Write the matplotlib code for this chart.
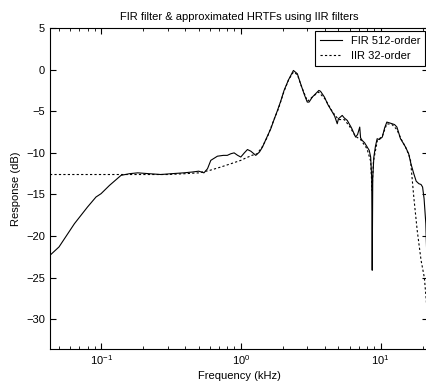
import matplotlib.pyplot as plt
from matplotlib.ticker import LogLocator, NullFormatter

# Respuesta del filtro FIR (512 coeficientes)
fir_freq = [0.0431, 0.050, 0.0645, 0.080, 0.092, 0.100, 0.115, 0.139, 0.16, 0.183,
            0.22, 0.268, 0.32, 0.39, 0.45, 0.50, 0.545, 0.578, 0.61, 0.68,
            0.75, 0.80, 0.85, 0.896, 0.95, 1.0, 1.06, 1.116, 1.18, 1.28,
            1.36, 1.43, 1.52, 1.64, 1.73, 1.83, 1.93, 2.04, 2.2, 2.38,
            2.54, 2.68, 2.85, 2.99, 3.08, 3.25, 3.43, 3.62, 3.72, 3.97,
            4.2, 4.52, 4.7, 4.9, 5.0, 5.32, 5.5, 5.78, 6.2, 6.63,
            6.85, 7.1, 7.2, 7.39, 7.7, 8.03, 8.3, 8.5, 8.65, 8.72,
            8.8, 8.96, 9.2, 9.46, 9.8, 10.3, 10.7, 11.1, 11.6, 12.1,
            12.6, 13.1, 13.5, 13.9, 14.5, 15.1, 15.9, 16.5, 17.3, 18.0,
            18.8, 19.5, 20.0, 20.5, 21.1, 21.7]
fir_db = [-22.3, -21.3, -18.5, -16.5, -15.3, -14.9, -13.9, -12.7, -12.5, -12.4,
          -12.5, -12.6, -12.5, -12.4, -12.3, -12.2, -12.4, -11.9, -10.9, -10.4,
          -10.3, -10.3, -10.1, -10.0, -10.3, -10.5, -10.0, -9.6, -9.8, -10.3,
          -9.9, -9.3, -8.3, -7.1, -6.0, -4.9, -3.8, -2.5, -1.2, -0.1,
          -0.5, -1.7, -3.0, -3.9, -3.9, -3.3, -2.9, -2.5, -2.6, -3.3,
          -4.2, -5.1, -5.6, -6.5, -5.9, -5.5, -5.8, -6.1, -7.0, -8.1,
          -7.8, -6.9, -8.2, -8.5, -8.8, -9.3, -9.7, -10.5, -13.0, -24.1,
          -13.0, -10.5, -9.2, -8.3, -8.4, -8.1, -7.0, -6.3, -6.4, -6.5,
          -6.6, -6.9, -7.6, -8.3, -8.8, -9.3, -10.1, -11.3, -12.5, -13.4,
          -13.7, -13.8, -14.1, -15.5, -18.5, -25.3]

# Aproximacion IIR de orden 32
iir_freq = [0.0431, 0.1, 0.2, 0.3, 0.4, 0.5, 0.6, 0.72, 0.85, 1.0,
            1.06, 1.2, 1.31, 1.42, 1.55, 1.7, 1.85, 2.04, 2.2, 2.38,
            2.54, 2.7, 3.0, 3.3, 3.6, 4.0, 4.5, 5.0, 5.5, 6.0,
            6.6, 7.2, 8.0, 8.5, 8.7, 8.9, 9.5, 10.3, 11.1, 12.1,
            13.1, 14.0, 15.1, 16.0, 16.4, 17.3, 18.3, 19.5, 20.6, 21.7]
iir_db = [-12.6, -12.6, -12.6, -12.6, -12.5, -12.4, -12.1, -11.7, -11.3, -10.9,
          -10.7, -10.3, -10.1, -9.3, -8.1, -6.3, -4.8, -2.6, -1.2, -0.3,
          -0.6, -1.9, -3.8, -3.2, -2.7, -3.5, -5.0, -6.0, -6.0, -6.8,
          -8.0, -8.4, -9.5, -11.0, -14.5, -11.0, -8.5, -8.0, -6.5, -6.6,
          -7.2, -8.3, -9.3, -10.3, -10.9, -15.3, -19.3, -22.9, -25.0, -29.5]

y_ticks = [-30, -25, -20, -15, -10, -5, 0, 5]

plt.rcParams['font.family'] = ['Liberation Sans', 'DejaVu Sans']
plt.rcParams['mathtext.fontset'] = 'custom'
plt.rcParams['mathtext.rm'] = 'Liberation Sans'
plt.rcParams['mathtext.it'] = 'Liberation Sans'

fig = plt.figure(figsize=(4.27, 3.89), dpi=100)
ax = fig.add_axes([50 / 427, 40.5 / 389, 378.5 / 427, 320.5 / 389])

ax.plot(fir_freq, fir_db, color='black', linewidth=0.8, label='FIR 512-order')
ax.plot(iir_freq, iir_db, color='black', linewidth=0.8, dashes=(2, 2), label='IIR 32-order')

ax.set_xscale('log')
ax.set_xlim(0.0431, 22.05)
ax.set_ylim(-33.5, 5)
ax.set_yticks(y_ticks)
ax.xaxis.set_minor_locator(LogLocator(base=10, subs=range(2, 10)))
ax.xaxis.set_minor_formatter(NullFormatter())
ax.tick_params(which='both', direction='in', top=True, right=True, labelsize=8)
ax.tick_params(which='major', length=4)
ax.tick_params(which='minor', length=2)

ax.set_title('FIR filter & approximated HRTFs using IIR filters', fontsize=8, pad=6)
ax.set_xlabel('Frequency (kHz)', fontsize=8, labelpad=3)
ax.set_ylabel('Response (dB)', fontsize=8, labelpad=4)

leg = ax.legend(loc='upper right', fontsize=8, fancybox=False, framealpha=1,
                edgecolor='black', handlelength=2.0, borderaxespad=0.3,
                borderpad=0.45, labelspacing=0.45)
leg.get_frame().set_linewidth(0.8)

fig.savefig('out.png', dpi=100)
